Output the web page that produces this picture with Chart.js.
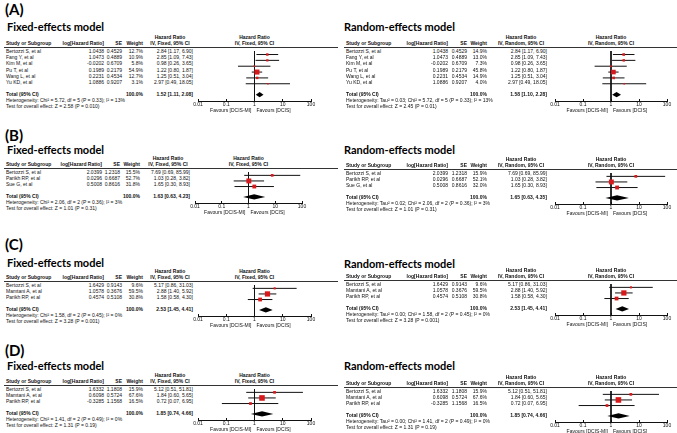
<!DOCTYPE html>
<html lang="en">
<head>
<meta charset="UTF-8" />
<title>Forest plots - DCIS-MI vs DCIS</title>
<script src="https://cdn.jsdelivr.net/npm/chart.js"></script>
<style>
  body { margin: 0; background: #fff; }
  #fig { position: relative; width: 677px; height: 433px; overflow: hidden; background: #fff; }
  .t { position: absolute; white-space: nowrap; line-height: 1; color: #111; font-family: "Liberation Sans", Arial, sans-serif; }
  .b { font-weight: bold; }
  .h { font-family: Lato, "Open Sans", sans-serif; font-weight: bold; color: #000; }
  .rule { position: absolute; height: 1px; background: #333; }
  .plot { position: absolute; }
</style>
</head>
<body>
<div id="fig"></div>

<script>
// ---------- data ----------
const tickValues = [0.01, 0.1, 1, 10, 100];

// (A)
const studiesA = ['Bertozzi S, et al', 'Fang Y, et al', 'Kim M, et al', 'Pu T, et al', 'Wang L, et al', 'Yu KD, et al'];
const logHrA = [1.0438, 1.0473, -0.0202, 0.1989, 0.2231, 1.0886];
const seA = [0.4529, 0.4889, 0.6709, 0.2179, 0.4534, 0.9207];
const hrA = [2.84, 2.85, 0.98, 1.22, 1.25, 2.97];
const lowA = [1.17, 1.09, 0.26, 0.80, 0.51, 0.49];
const highA = [6.90, 7.43, 3.65, 1.87, 3.04, 18.05];
const wFixedA = [12.7, 10.9, 5.8, 54.9, 12.7, 3.1];
const wRandomA = [14.9, 13.0, 7.3, 45.8, 14.9, 4.0];
const totalFixedA = [1.52, 1.11, 2.08];
const totalRandomA = [1.58, 1.10, 2.28];
const hetFixedA = 'Heterogeneity: Chi² = 5.72, df = 5 (P = 0.33); I² = 13%';
const hetRandomA = 'Heterogeneity: Tau² = 0.03; Chi² = 5.72, df = 5 (P = 0.33); I² = 13%';
const zFixedA = 'Test for overall effect: Z = 2.58 (P = 0.010)';
const zRandomA = 'Test for overall effect: Z = 2.45 (P = 0.01)';

// (B)
const studiesB = ['Bertozzi S, et al', 'Parikh RP, et al', 'Sue G, et al'];
const logHrB = [2.0399, 0.0296, 0.5008];
const seB = [1.2318, 0.6687, 0.8616];
const hrB = [7.69, 1.03, 1.65];
const lowB = [0.69, 0.28, 0.30];
const highB = [85.99, 3.82, 8.93];
const wFixedB = [15.5, 52.7, 31.8];
const wRandomB = [15.9, 52.1, 32.0];
const totalFixedB = [1.63, 0.63, 4.23];
const totalRandomB = [1.65, 0.63, 4.35];
const hetFixedB = 'Heterogeneity: Chi² = 2.06, df = 2 (P = 0.36); I² = 3%';
const hetRandomB = 'Heterogeneity: Tau² = 0.02; Chi² = 2.06, df = 2 (P = 0.36); I² = 3%';
const zFixedB = 'Test for overall effect: Z = 1.01 (P = 0.31)';
const zRandomB = 'Test for overall effect: Z = 1.01 (P = 0.31)';

// (C)
const studiesC = ['Bertozzi S, et al', 'Mamtani A, et al', 'Parikh RP, et al'];
const logHrC = [1.6429, 1.0578, 0.4574];
const seC = [0.9143, 0.3676, 0.5108];
const hrC = [5.17, 2.88, 1.58];
const lowC = [0.86, 1.40, 0.58];
const highC = [31.03, 5.92, 4.30];
const wFixedC = [9.6, 59.5, 30.8];
const wRandomC = [9.6, 59.5, 30.8];
const totalFixedC = [2.53, 1.45, 4.41];
const totalRandomC = [2.53, 1.45, 4.41];
const hetFixedC = 'Heterogeneity: Chi² = 1.58, df = 2 (P = 0.45); I² = 0%';
const hetRandomC = 'Heterogeneity: Tau² = 0.00; Chi² = 1.58, df = 2 (P = 0.45); I² = 0%';
const zFixedC = 'Test for overall effect: Z = 3.28 (P = 0.001)';
const zRandomC = 'Test for overall effect: Z = 3.28 (P = 0.001)';

// (D)
const studiesD = ['Bertozzi S, et al', 'Mamtani A, et al', 'Parikh RP, et al'];
const logHrD = [1.6332, 0.6098, -0.3285];
const seD = [1.1808, 0.5724, 1.1568];
const hrD = [5.12, 1.84, 0.72];
const lowD = [0.51, 0.60, 0.07];
const highD = [51.81, 5.65, 6.95];
const wFixedD = [15.9, 67.6, 16.5];
const wRandomD = [15.9, 67.6, 16.5];
const totalFixedD = [1.85, 0.74, 4.66];
const totalRandomD = [1.85, 0.74, 4.66];
const hetFixedD = 'Heterogeneity: Chi² = 1.41, df = 2 (P = 0.49); I² = 0%';
const hetRandomD = 'Heterogeneity: Tau² = 0.00; Chi² = 1.41, df = 2 (P = 0.49); I² = 0%';
const zFixedD = 'Test for overall effect: Z = 1.31 (P = 0.19)';
const zRandomD = 'Test for overall effect: Z = 1.31 (P = 0.19)';

// ---------- layout ----------
const ROW = 6.3;          // px between study rows
const FIRST = 3.8;        // px from header rule to first row
const FONT = 5;           // table font size
const AXIS_H = 12;        // height reserved for x axis under the plot area
const PADX = 9;
const RED = '#d7191c';

const LEFT = { title: 'Fixed-effects model', method: 'IV, Fixed, 95% CI', tx: 7, study: 6, logR: 104, seR: 122, wR: 143, hrR: 193, hrC: 170, ax0: 198, ax1: 311, lineL: 4, lineR: 338 };
const LEFT_B = Object.assign({}, LEFT, { logR: 102, seR: 120, wR: 140, hrR: 190, hrC: 168, ax0: 195, ax1: 302 });
const RIGHT = { title: 'Random-effects model', method: 'IV, Random, 95% CI', tx: 344, study: 346, logR: 448, seR: 467, wR: 487, hrR: 547, hrC: 521, ax0: 555, ax1: 667, lineL: 344, lineR: 677 };

const fig = document.getElementById('fig');

function addText(str, x, y, o) {
  o = o || {};
  const d = document.createElement('div');
  d.className = 't' + (o.bold ? ' b' : '') + (o.head ? ' h' : '');
  d.textContent = str;
  d.style.left = x + 'px';
  d.style.top = y + 'px';
  d.style.fontSize = (o.size || FONT) + 'px';
  const tx = o.align === 'right' ? '-100%' : o.align === 'center' ? '-50%' : '0';
  d.style.transform = 'translate(' + tx + ', -50%)';
  fig.appendChild(d);
}

const diamondPlugin = {
  id: 'diamond',
  afterDatasetsDraw(chart, args, opts) {
    if (!opts.total) return;
    const xs = chart.scales.x, ys = chart.scales.y;
    const [est, lo, hi] = opts.total;
    const yc = ys.getPixelForValue(opts.row);
    const ctx = chart.ctx;
    ctx.save();
    ctx.fillStyle = '#000';
    ctx.beginPath();
    ctx.moveTo(xs.getPixelForValue(lo), yc);
    ctx.lineTo(xs.getPixelForValue(est), yc - opts.half);
    ctx.lineTo(xs.getPixelForValue(hi), yc);
    ctx.lineTo(xs.getPixelForValue(est), yc + opts.half);
    ctx.closePath();
    ctx.fill();
    ctx.restore();
  }
};

function drawPanel(side, y0, titleY, studies, logHr, se, hr, low, high, weight, total, het, ztest) {
  const n = studies.length;
  const yTop = -FIRST / ROW;
  const yTotal = n + 0.87;
  const yAxis = n + 1.95;
  const plotH = (yAxis - yTop) * ROW;

  addText(side.title, side.tx, titleY, { size: 11, head: true });

  // headers
  addText('Hazard Ratio', side.hrC, y0 - 10.5, { bold: true, align: 'center' });
  addText(side.method, side.hrC, y0 - 4, { bold: true, align: 'center' });
  const x1 = (side.ax0 + side.ax1) / 2;
  addText('Hazard Ratio', x1, y0 - 10.5, { bold: true, align: 'center' });
  addText(side.method, x1, y0 - 4, { bold: true, align: 'center' });
  addText('Study or Subgroup', side.study, y0 - 4, { bold: true });
  addText('log[Hazard Ratio]', side.logR, y0 - 4, { bold: true, align: 'right' });
  addText('SE', side.seR, y0 - 4, { bold: true, align: 'right' });
  addText('Weight', side.wR, y0 - 4, { bold: true, align: 'right' });

  const rule = document.createElement('div');
  rule.className = 'rule';
  rule.style.left = side.lineL + 'px';
  rule.style.width = (side.lineR - side.lineL) + 'px';
  rule.style.top = y0 + 'px';
  fig.appendChild(rule);

  // study rows
  studies.forEach((s, i) => {
    const y = y0 + (i - yTop) * ROW;
    addText(s, side.study, y);
    addText(logHr[i].toFixed(4), side.logR, y, { align: 'right' });
    addText(se[i].toFixed(4), side.seR, y, { align: 'right' });
    addText(weight[i].toFixed(1) + '%', side.wR, y, { align: 'right' });
    addText(hr[i].toFixed(2) + ' [' + low[i].toFixed(2) + ', ' + high[i].toFixed(2) + ']', side.hrR, y, { align: 'right' });
  });
  const yT = y0 + (yTotal - yTop) * ROW;
  addText('Total (95% CI)', side.study, yT, { bold: true });
  addText('100.0%', side.wR, yT, { bold: true, align: 'right' });
  addText(total[0].toFixed(2) + ' [' + total[1].toFixed(2) + ', ' + total[2].toFixed(2) + ']', side.hrR, yT, { bold: true, align: 'right' });
  addText(het, side.study, yT + 6.3);
  addText(ztest, side.study, yT + 12);

  // plot
  const wrap = document.createElement('div');
  wrap.className = 'plot';
  const cw = side.ax1 - side.ax0 + 2 * PADX;
  const ch = Math.round(plotH + AXIS_H);
  wrap.style.left = (side.ax0 - PADX) + 'px';
  wrap.style.top = y0 + 'px';
  const cv = document.createElement('canvas');
  cv.width = cw; cv.height = ch;
  cv.style.width = cw + 'px'; cv.style.height = ch + 'px';
  wrap.appendChild(cv);
  fig.appendChild(wrap);

  const xOne = side.ax0 + (side.ax1 - side.ax0) / 2;
  const yAx = y0 + Math.round(plotH);
  addText('Favours [DCIS-MI]', xOne - 3, yAx + 8.5, { align: 'right' });
  addText('Favours [DCIS]', xOne + 2, yAx + 8.5);

  const datasets = [];
  datasets.push({
    label: 'HR',
    data: hr.map((v, i) => ({ x: v, y: i })),
    pointStyle: 'rect',
    pointRadius: weight.map(w => Math.max(1.6, 0.68 * Math.sqrt(w)) / Math.SQRT2),
    backgroundColor: RED, borderWidth: 0, showLine: false, order: 0
  });
  studies.forEach((s, i) => {
    datasets.push({
      label: s,
      data: [{ x: low[i], y: i }, { x: high[i], y: i }],
      showLine: true, borderColor: '#111', borderWidth: 1, pointRadius: 0, order: 1
    });
  });
  datasets.push({
    label: 'no effect',
    data: [{ x: 1, y: yTop }, { x: 1, y: yAxis }],
    showLine: true, borderColor: '#111', borderWidth: 1, pointRadius: 0, order: 2
  });

  new Chart(cv, {
    type: 'scatter',
    data: { datasets },
    plugins: [diamondPlugin],
    options: {
      responsive: false,
      animation: false,
      events: [],
      clip: false,
      layout: { padding: { left: PADX, right: PADX, top: 0, bottom: 0 } },
      plugins: {
        legend: { display: false },
        tooltip: { enabled: false },
        diamond: { total: total, row: yTotal, half: 2.6 }
      },
      scales: {
        x: {
          type: 'logarithmic', min: 0.01, max: 100,
          afterBuildTicks: s => { s.ticks = tickValues.map(v => ({ value: v })); },
          afterFit: s => { s.height = AXIS_H; },
          ticks: {
            color: '#111', padding: 3, maxRotation: 0, autoSkip: false,
            font: { size: 5, family: 'Liberation Sans' },
            callback: v => String(v)
          },
          grid: { drawOnChartArea: false, drawTicks: true, tickLength: -2, color: '#111' },
          border: { display: true, color: '#111', width: 1 }
        },
        y: { type: 'linear', display: false, reverse: true, min: yTop, max: yAxis }
      }
    }
  });
}

// panel letters
addText('(A)', 5, 9, { size: 15, head: true });
addText('(B)', 5, 135, { size: 15, head: true });
addText('(C)', 5, 243.5, { size: 15, head: true });
addText('(D)', 5, 349.5, { size: 15, head: true });

drawPanel(LEFT, 47, 26, studiesA, logHrA, seA, hrA, lowA, highA, wFixedA, totalFixedA, hetFixedA, zFixedA);
drawPanel(RIGHT, 47, 26, studiesA, logHrA, seA, hrA, lowA, highA, wRandomA, totalRandomA, hetRandomA, zRandomA);
drawPanel(LEFT_B, 168, 149, studiesB, logHrB, seB, hrB, lowB, highB, wFixedB, totalFixedB, hetFixedB, zFixedB);
drawPanel(RIGHT, 169, 149, studiesB, logHrB, seB, hrB, lowB, highB, wRandomB, totalRandomB, hetRandomB, zRandomB);
drawPanel(LEFT, 281, 261.5, studiesC, logHrC, seC, hrC, lowC, highC, wFixedC, totalFixedC, hetFixedC, zFixedC);
drawPanel(RIGHT, 280, 263, studiesC, logHrC, seC, hrC, lowC, highC, wRandomC, totalRandomC, hetRandomC, zRandomC);
drawPanel(LEFT, 385, 364.5, studiesD, logHrD, seD, hrD, lowD, highD, wFixedD, totalFixedD, hetFixedD, zFixedD);
drawPanel(RIGHT, 387, 365, studiesD, logHrD, seD, hrD, lowD, highD, wRandomD, totalRandomD, hetRandomD, zRandomD);
</script>
</body>
</html>
